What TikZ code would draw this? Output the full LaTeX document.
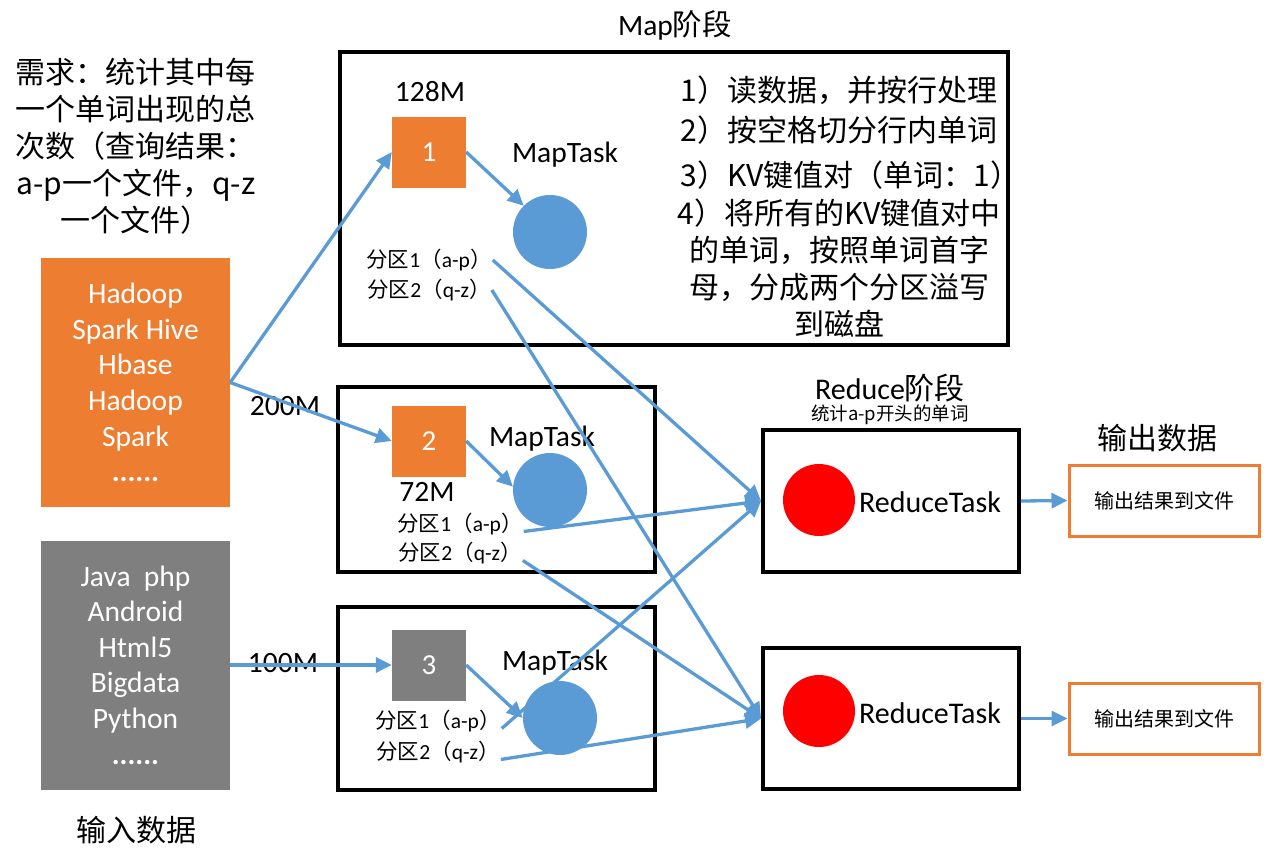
\documentclass[tikz,border=0pt]{standalone}
\usepackage{fontspec}
\setmainfont{Carlito}
\newfontfamily\cjk{Noto Sans CJK SC}
\usetikzlibrary{arrows.meta}
\definecolor{hdorange}{HTML}{ED7D31}
\definecolor{hdblue}{HTML}{5B9BD5}
\definecolor{hdgray}{HTML}{7F7F7F}
\newcommand{\sz}[1]{\fontsize{#1}{#1}\selectfont}
\newcommand{\fenqu}[2]{{\cjk 分区}#1{\cjk （}#2{\cjk ）}}
\tikzset{
  stagebox/.style 2 args={draw=black,line width=3.8pt,minimum width=#1,minimum height=#2,inner sep=0pt},
  inbox/.style={fill=#1,minimum width=189pt,minimum height=249pt,align=center,text=white,font=\fontsize{29.5}{35.6}\selectfont},
  block/.style={fill=#1,minimum width=74pt,minimum height=71pt,text=white,font=\sz{29}},
  maptask/.style={circle,fill=hdblue,minimum size=74pt,inner sep=0pt},
  redtask/.style={circle,fill=red,minimum size=72pt,inner sep=0pt},
  outbox/.style={draw=hdorange,line width=3pt,minimum width=190pt,minimum height=71pt,font=\cjk\sz{20}},
  part/.style={inner sep=1pt,font=\sz{21.5}},
  flow/.style={draw=hdblue,line width=3.3pt,-{Triangle[length=16pt,width=15pt]}}
}

\begin{document}
\begin{tikzpicture}[x=1pt,y=-1pt]
\useasboundingbox (0,0) rectangle (1267,860);
% requirement text
\node[align=center,font=\cjk\fontsize{30}{37}\selectfont] (req) at (136,146)
  {需求：统计其中每\\一个单词出现的总\\次数（查询结果：\\a-p一个文件，q-z\\一个文件）};
% input data
\node[inbox=hdorange] (inA) at (135.5,382.5) {Hadoop\\Spark Hive\\Hbase\\Hadoop\\Spark\\\textbf{......}};
\node[inbox=hdgray] (inB) at (135.5,665) {Java\ \ php\\Android\\Html5\\Bigdata\\Python\\\textbf{......}};
\node[font=\cjk\sz{30}] (inlbl) at (136,830) {输入数据};
% map stage
\node[font=\sz{29.5}] (maptitle) at (675,25) {Map{\cjk 阶段}};
\node[stagebox={668pt}{293pt}] (map1) at (674,198.5) {};
\node[stagebox={317pt}{185pt}] (map2) at (496.5,479.5) {};
\node[stagebox={317pt}{183pt}] (map3) at (496.5,698.5) {};
% splits
\node[block=hdorange] (sq1) at (429,152) {1};
\node[block=hdorange] (sq2) at (429,441) {2};
\node[block=hdgray] (sq3) at (429,665) {3};
\node[font=\sz{29.5}] (size1) at (430,92) {128M};
\node[font=\sz{29.5}] (size2) at (427,492) {72M};
\node[font=\sz{29.5}] (size3) at (285,406) {200M};
\node[font=\sz{29.5}] (size4) at (283,663) {100M};
% map tasks
\node[maptask] (mt1) at (550,232) {};
\node[maptask] (mt2) at (550,490) {};
\node[maptask] (mt3) at (560,718) {};
\node[font=\sz{29.5}] (mtl1) at (565,155) {MapTask};
\node[font=\sz{29.5}] (mtl2) at (542,439) {MapTask};
\node[font=\sz{29.5}] (mtl3) at (555,663) {MapTask};
% partitions
\node[part] (m1p1) at (429,260) {\fenqu{1}{a-p}};
\node[part] (m1p2) at (429,290) {\fenqu{2}{q-z}};
\node[part] (m2p1) at (460,524) {\fenqu{1}{a-p}};
\node[part] (m2p2) at (460,553) {\fenqu{2}{q-z}};
\node[part] (m3p1) at (438,721) {\fenqu{1}{a-p}};
\node[part] (m3p2) at (438,752) {\fenqu{2}{q-z}};
% map steps
\node[anchor=west,font=\cjk\sz{30}] (step1) at (677,90) {1）读数据，并按行处理};
\node[anchor=west,font=\cjk\sz{30}] (step2) at (677,130) {2）按空格切分行内单词};
\node[anchor=west,font=\cjk\sz{30}] (step3) at (677,175) {3）KV键值对（单词：1）};
\node[align=center,font=\cjk\fontsize{30}{37}\selectfont] (step4) at (839,268)
  {4）将所有的KV键值对中\\的单词，按照单词首字\\母，分成两个分区溢写\\到磁盘};
% reduce stage
\node[font=\sz{30}] (redtitle) at (890,388) {Reduce{\cjk 阶段}};
\node[font=\cjk\sz{18.5}] (rednote) at (890,415) {统计a-p开头的单词};
\node[stagebox={256pt}{142pt}] (red1) at (891,501) {};
\node[stagebox={256pt}{141pt}] (red2) at (891,718.5) {};
\node[redtask] (rt1) at (819,500) {};
\node[redtask] (rt2) at (819,711) {};
\node[font=\sz{30}] (rtl1) at (930,502) {ReduceTask};
\node[font=\sz{30}] (rtl2) at (930,713) {ReduceTask};
% output data
\node[font=\cjk\sz{30}] (outlbl) at (1157,438) {输出数据};
\node[outbox] (out1) at (1164,500.5) {输出结果到文件};
\node[outbox] (out2) at (1164,718.5) {输出结果到文件};
% input to splits
\draw[flow] (inA.east) -- (sq1.west);
\draw[flow] (inA.east) -- (sq2.west);
\draw[flow] (inB.east) -- (sq3.west);
% splits to map tasks
\draw[flow] (sq1.east) -- (mt1.135);
\draw[flow] (sq2.east) -- (mt2.175);
\draw[flow] (sq3.east) -- (mt3.180);
% shuffle
\draw[flow] (m1p1.east) -- (red1.west);
\draw[flow] (m1p2.east) -- (red2.west);
\draw[flow] (m2p1.base east) -- (red1.west);
\draw[flow] (m2p2.base east) -- (red2.west);
\draw[flow] (m3p1.base east) -- (red1.west);
\draw[flow] (m3p2.base east) -- (red2.west);
% reduce to output
\draw[flow] (red1.east) -- (out1.west);
\draw[flow] (red2.east) -- (out2.west);
\end{tikzpicture}
\end{document}
